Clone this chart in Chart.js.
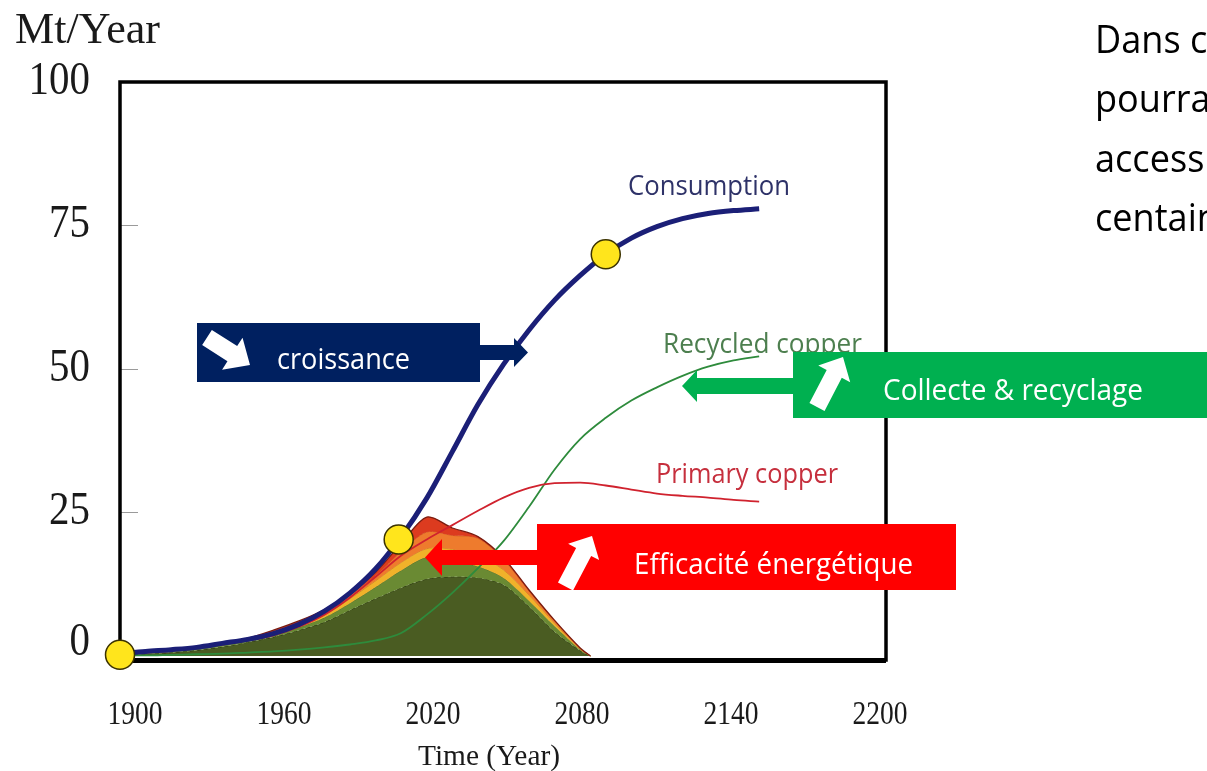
<!DOCTYPE html>
<html>
<head>
<meta charset="utf-8">
<script src="https://cdn.jsdelivr.net/npm/chart.js@4.4.1/dist/chart.umd.min.js"></script>
<style>
  html, body { margin: 0; padding: 0; background: #fff; overflow: hidden; }
  #wrap { width: 1207px; height: 771px; position: relative; }
</style>
</head>
<body>
<div id="wrap"><canvas id="myChart"></canvas></div>
<script>
// values (Mt/year)
var years = [1900, 1910, 1920, 1930, 1940, 1950, 1960, 1970, 1980, 1990, 2000, 2010, 2020,
             2030, 2040, 2050, 2060, 2070, 2080, 2090, 2100, 2110, 2120, 2130, 2140, 2150];
var consumption = [0.4, 0.8, 1.1, 1.5, 2.2, 2.9, 3.9, 5.5, 7.8, 11.0, 15.2, 20.8, 27.5,
                   35.6, 43.8, 50.8, 56.8, 62.0, 66.3, 70.0, 72.8, 74.8, 76.2, 77.1, 77.6, 77.9];
var primaryCopper = [0.4, 0.8, 1.1, 1.4, 2.0, 2.7, 3.6, 5.1, 7.2, 10.2, 13.8, 17.5, 20.3,
                     22.8, 25.3, 27.6, 29.3, 30.1, 30.2, 29.7, 29.0, 28.3, 27.9, 27.6, 27.2, 26.9];
var recycledCopper = [0.1, 0.1, 0.2, 0.3, 0.4, 0.6, 0.8, 1.1, 1.5, 2.0, 2.7, 4.0, 7.2,
                      11.0, 15.3, 20.0, 26.0, 32.5, 37.8, 41.5, 44.5, 46.8, 48.8, 50.4, 51.5, 52.2];

// stacked mine production, cumulative tops of each band
var mineYears = [1900, 1910, 1920, 1930, 1940, 1950, 1960, 1970, 1980, 1990, 2000, 2010,
                 2020, 2030, 2040, 2050, 2060, 2070, 2080, 2084];
var layerDark   = [0.2, 0.35, 0.6, 1.0, 1.6, 2.4, 3.3, 4.5, 5.9, 8.0, 10.0, 11.9, 13.4, 13.8, 13.6, 12.4, 8.6, 4.2, 0.9, 0];
var layerGreen  = [0.25, 0.45, 0.75, 1.2, 1.9, 2.8, 3.8, 5.0, 6.7, 9.2, 12.0, 14.9, 17.2, 16.6, 15.6, 13.6, 9.6, 5.2, 1.1, 0];
var layerYellow = [0.3, 0.5, 0.8, 1.3, 2.0, 2.9, 4.1, 5.4, 7.2, 10.0, 13.1, 16.3, 18.7, 18.6, 17.6, 15.0, 10.6, 5.7, 1.2, 0];
var layerOrange = [0.35, 0.55, 0.9, 1.4, 2.1, 3.0, 4.3, 5.8, 7.7, 10.6, 14.0, 18.2, 21.6, 21.0, 20.5, 16.8, 11.3, 6.1, 1.3, 0];
var layerRed    = [0.4, 0.6, 1.0, 1.5, 2.2, 3.1, 4.5, 6.1, 8.1, 11.0, 14.6, 19.6, 24.2, 22.3, 20.8, 17.1, 11.5, 6.2, 1.4, 0];

var markerYears = [1900, 2009, 2090];
var markerValues = [0.2, 20.3, 70];

var xTicks = [1900, 1960, 2020, 2080, 2140, 2200];
var yTicks = [0, 25, 50, 75, 100];

function pts(xs, ys) {
    return xs.map(function (x, i) { return { x: x, y: ys[i] }; });
}

function drawText(ctx, text, x, y, font, color, sx, align) {
    ctx.save();
    ctx.font = font;
    ctx.fillStyle = color;
    ctx.textBaseline = 'alphabetic';
    ctx.textAlign = align || 'left';
    ctx.translate(x, y);
    ctx.scale(sx, 1);
    ctx.fillText(text, 0, 0);
    ctx.restore();
}

function fitText(ctx, text, x, y, font, color, width) {
    ctx.save();
    ctx.font = font;
    var w = ctx.measureText(text).width;
    ctx.restore();
    drawText(ctx, text, x, y, font, color, width / w, 'left');
}

function blockArrow(ctx, x0, y0, x1, y1, sw, hw, hl, color) {
    var a = Math.atan2(y1 - y0, x1 - x0);
    var L = Math.hypot(x1 - x0, y1 - y0);
    ctx.save();
    ctx.translate(x0, y0);
    ctx.rotate(a);
    ctx.beginPath();
    ctx.moveTo(0, -sw / 2);
    ctx.lineTo(L - hl, -sw / 2);
    ctx.lineTo(L - hl, -hw / 2);
    ctx.lineTo(L, 0);
    ctx.lineTo(L - hl, hw / 2);
    ctx.lineTo(L - hl, sw / 2);
    ctx.lineTo(0, sw / 2);
    ctx.closePath();
    ctx.fillStyle = color;
    ctx.fill();
    ctx.restore();
}

var serif = '"Liberation Serif", "Times New Roman", serif';
var sans = '"Open Sans", "Noto Sans", sans-serif';

var decor = {
    id: 'decor',
    beforeDatasetsDraw: function (chart) {
        var ctx = chart.ctx, ca = chart.chartArea, y = chart.scales.y;
        ctx.save();
        // small inner ticks on the y axis
        ctx.strokeStyle = '#9a9a9a';
        ctx.lineWidth = 1;
        yTicks.forEach(function (v) {
            if (v === 0 || v === 100) return;
            var py = Math.round(y.getPixelForValue(v)) + 0.5;
            ctx.beginPath();
            ctx.moveTo(ca.left, py);
            ctx.lineTo(ca.left + 18, py);
            ctx.stroke();
        });
        // frame
        ctx.strokeStyle = '#000';
        ctx.lineWidth = 3.5;
        ctx.strokeRect(ca.left, ca.top, ca.right - ca.left - 1, ca.bottom - ca.top);
        ctx.lineWidth = 5;
        ctx.beginPath();
        ctx.moveTo(ca.left, ca.bottom + 0.5);
        ctx.lineTo(ca.right - 1, ca.bottom + 0.5);
        ctx.stroke();
        ctx.restore();
    },
    afterDraw: function (chart) {
        var ctx = chart.ctx, ca = chart.chartArea;
        var x = chart.scales.x, y = chart.scales.y;

        // axis titles and tick labels
        fitText(ctx, 'Mt/Year', 15, 43, '44px ' + serif, '#1a1a1a', 145);
        yTicks.forEach(function (v) {
            var py = Math.min(y.getPixelForValue(v) + 12, ca.bottom - 5);
            drawText(ctx, String(v), 90, py, '46px ' + serif, '#1a1a1a', 0.89, 'right');
        });
        // the year labels sit a little inside the frame ends
        xTicks.forEach(function (v) {
            var px = x.getPixelForValue(v);
            var lx = 135 + (px - ca.left) * 745 / (ca.right - ca.left);
            drawText(ctx, String(v), lx, 724, '34px ' + serif, '#1a1a1a', 0.81, 'center');
        });
        fitText(ctx, 'Time (Year)', 418, 765, '30px ' + serif, '#1a1a1a', 142);

        // curve labels
        fitText(ctx, 'Consumption', 628, 195, '27px ' + sans, '#2e3268', 162);
        fitText(ctx, 'Recycled copper', 663, 353, '27px ' + sans, '#4d7f4f', 199);
        fitText(ctx, 'Primary copper', 656, 483, '27px ' + sans, '#c62f3d', 182);

        // croissance
        ctx.fillStyle = '#002060';
        ctx.fillRect(197, 323, 283, 59);
        blockArrow(ctx, 478, 352.5, 528, 352.5, 15, 29, 14, '#002060');
        blockArrow(ctx, 207, 337.5, 250, 365, 18, 38, 21, '#ffffff');
        fitText(ctx, 'croissance', 277, 369, '30px ' + sans, '#ffffff', 133);

        // collecte & recyclage
        ctx.fillStyle = '#00b050';
        ctx.fillRect(793, 352, 420, 66);
        blockArrow(ctx, 795, 386, 682, 386, 16, 32, 15, '#00b050');
        blockArrow(ctx, 817, 407, 843, 357, 17, 36, 19, '#ffffff');
        fitText(ctx, 'Collecte & recyclage', 883, 400, '29px ' + sans, '#ffffff', 260);

        // efficacite energetique
        ctx.fillStyle = '#ff0000';
        ctx.fillRect(537, 524, 419, 66);
        blockArrow(ctx, 539, 557.5, 425, 557.5, 15, 37, 17, '#ff0000');
        blockArrow(ctx, 565.5, 586.5, 592, 536, 17, 35, 18, '#ffffff');
        fitText(ctx, 'Efficacité énergétique', 634, 574, '29px ' + sans, '#ffffff', 279);

        // side text, cut by the page edge
        ctx.save();
        ctx.font = '39px ' + sans;
        var sx = 95 / ctx.measureText('Dans ').width;
        ctx.restore();
        var lines = ['Dans ce scénario', 'pourrait', 'accessible', 'centaines'];
        var base = [53, 112, 172, 231];
        lines.forEach(function (t, i) {
            drawText(ctx, t, 1095, base[i], '39px ' + sans, '#000000', sx, 'left');
        });
    }
};

var ctx = document.getElementById('myChart').getContext('2d');
var myChart = new Chart(ctx, {
    type: 'line',
    data: {
        datasets: [
            { data: pts(mineYears, layerDark), fill: 'origin', backgroundColor: '#4a5c22',
              borderColor: '#27320e', borderWidth: 1, borderDash: [4, 3], tension: 0.3, pointRadius: 0, order: 5 },
            { data: pts(mineYears, layerGreen), fill: '-1', backgroundColor: '#6a8a33',
              borderColor: '#55722a', borderWidth: 1, tension: 0.3, pointRadius: 0, order: 4 },
            { data: pts(mineYears, layerYellow), fill: '-1', backgroundColor: '#f0b22a',
              borderColor: '#c9901e', borderWidth: 1, tension: 0.3, pointRadius: 0, order: 3 },
            { data: pts(mineYears, layerOrange), fill: '-1', backgroundColor: '#ee7b2d',
              borderColor: '#d2621f', borderWidth: 1, tension: 0.3, pointRadius: 0, order: 2 },
            { data: pts(mineYears, layerRed), fill: '-1', backgroundColor: '#dc3b1f',
              borderColor: '#7a1c10', borderWidth: 1.3, tension: 0.3, pointRadius: 0, order: 1 },
            { label: 'Recycled copper', data: pts(years, recycledCopper), borderColor: '#2e8b3c',
              borderWidth: 1.8, fill: false, cubicInterpolationMode: 'monotone', pointRadius: 0, order: -1 },
            { label: 'Primary copper', data: pts(years, primaryCopper), borderColor: '#d0222e',
              borderWidth: 1.8, fill: false, cubicInterpolationMode: 'monotone', pointRadius: 0, order: -2 },
            { label: 'Consumption', data: pts(years, consumption), borderColor: '#1b1f77',
              borderWidth: 5, fill: false, cubicInterpolationMode: 'monotone', pointRadius: 0, order: -3 },
            { data: pts(markerYears, markerValues), showLine: false, pointRadius: 14.5, pointHoverRadius: 14.5,
              pointBackgroundColor: '#ffe51c', pointBorderColor: '#3b3200', pointBorderWidth: 1.5,
              clip: false, order: -4 }
        ]
    },
    options: {
        responsive: true,
        maintainAspectRatio: false,
        animation: false,
        events: [],
        layout: { padding: { left: 0, top: 82, right: 320, bottom: 0 } },
        plugins: { legend: { display: false }, tooltip: { enabled: false } },
        scales: {
            x: {
                type: 'linear', min: 1900, max: 2200,
                afterBuildTicks: function (s) { s.ticks = xTicks.map(function (v) { return { value: v }; }); },
                afterFit: function (s) { s.height = 111; },
                ticks: { display: false }, grid: { display: false }, border: { display: false }
            },
            y: {
                type: 'linear', min: -0.7, max: 100,
                afterBuildTicks: function (s) { s.ticks = yTicks.map(function (v) { return { value: v }; }); },
                afterFit: function (s) { s.width = 120; },
                ticks: { display: false }, grid: { display: false }, border: { display: false }
            }
        }
    },
    plugins: [decor]
});
</script>
</body>
</html>
